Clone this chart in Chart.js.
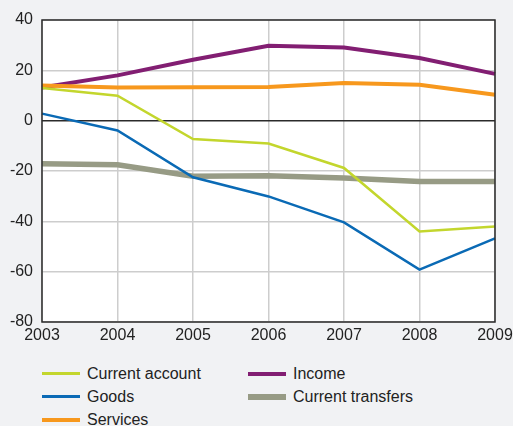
<!DOCTYPE html>
<html>
<head>
<meta charset="utf-8">
<script src="https://cdn.jsdelivr.net/npm/chart.js@4"></script>
<style>
  html, body { margin: 0; padding: 0; background: #f1f2f4; }
  #wrap { position: relative; width: 513px; height: 350px; }
  #legend {
    display: grid;
    grid-auto-flow: column;
    grid-template-rows: repeat(3, 23px);
    grid-template-columns: 206px 220px;
    margin: 12px 0 0 42px;
    font: 16px "Liberation Sans", Arial, sans-serif;
    color: #222;
  }
  .item { display: flex; align-items: center; }
  .swatch { width: 38px; margin-right: 7px; }
</style>
</head>
<body>
<div id="wrap"><canvas id="canvas" width="513" height="350"></canvas></div>
<div id="legend"></div>
<script>
const years = ["2003", "2004", "2005", "2006", "2007", "2008", "2009"];
const currentAccount = [13.0, 9.9, -7.3, -9.1, -18.8, -44.0, -42.1];
const goods = [2.8, -3.9, -22.5, -30.1, -40.4, -59.2, -46.8];
const services = [14.0, 13.2, 13.3, 13.4, 15.0, 14.3, 10.3];
const income = [13.2, 18.0, 24.2, 29.8, 29.1, 24.9, 18.6];
const currentTransfers = [-17.1, -17.5, -22.1, -21.9, -22.8, -24.2, -24.2];

const series = [
  { label: "Current account", data: currentAccount, color: "#c3d62d", width: 2.5 },
  { label: "Goods", data: goods, color: "#0a6ab5", width: 2.5 },
  { label: "Services", data: services, color: "#f7981d", width: 4 },
  { label: "Income", data: income, color: "#821e72", width: 4 },
  { label: "Current transfers", data: currentTransfers, color: "#979b85", width: 5.5 }
];

const plotBox = {
  id: 'plotBox',
  beforeDraw(chart) {
    const a = chart.chartArea, ctx = chart.ctx;
    ctx.save();
    ctx.fillStyle = '#ffffff';
    ctx.fillRect(a.left, a.top, a.right - a.left, a.bottom - a.top);
    ctx.restore();
  },
  afterDatasetsDraw(chart) {
    const a = chart.chartArea, ctx = chart.ctx;
    ctx.save();
    ctx.strokeStyle = '#2b2b2b';
    ctx.lineWidth = 1.5;
    ctx.strokeRect(a.left, a.top, a.right - a.left, a.bottom - a.top);
    ctx.restore();
  }
};

new Chart(document.getElementById("canvas"), {
  type: 'line',
  data: {
    labels: years,
    datasets: series.map((s, i) => ({
      label: s.label,
      data: s.data,
      borderColor: s.color,
      borderWidth: s.width,
      pointRadius: 0,
      tension: 0,
      order: i
    }))
  },
  options: {
    responsive: false,
    animation: false,
    layout: { padding: { top: 20, right: 18, left: 0, bottom: 0 } },
    plugins: { legend: { display: false }, tooltip: { enabled: false } },
    scales: {
      x: {
        offset: false,
        grid: { color: '#cdcdcd', lineWidth: 1.5, drawTicks: false },
        border: { display: false },
        ticks: { color: '#222', padding: 4, maxRotation: 0, font: { family: 'Liberation Sans', size: 16 } },
        afterFit(s) { s.height = 28; s.paddingLeft = 0; s.paddingRight = 0; }
      },
      y: {
        min: -80, max: 40,
        ticks: { stepSize: 20, color: '#222', padding: 9, font: { family: 'Liberation Sans', size: 16 } },
        grid: {
          color: c => c.tick && c.tick.value === 0 ? '#2b2b2b' : '#cdcdcd',
          lineWidth: 1.5,
          drawTicks: false
        },
        border: { display: false },
        afterFit(s) { s.width = 42; s.paddingTop = 0; s.paddingBottom = 0; }
      }
    }
  },
  plugins: [plotBox]
});

const legend = document.getElementById('legend');
series.forEach(s => {
  const item = document.createElement('div');
  item.className = 'item';
  const sw = document.createElement('span');
  sw.className = 'swatch';
  sw.style.height = Math.round(s.width) + 'px';
  sw.style.background = s.color;
  item.appendChild(sw);
  item.appendChild(document.createTextNode(s.label));
  legend.appendChild(item);
});
</script>
</body>
</html>
